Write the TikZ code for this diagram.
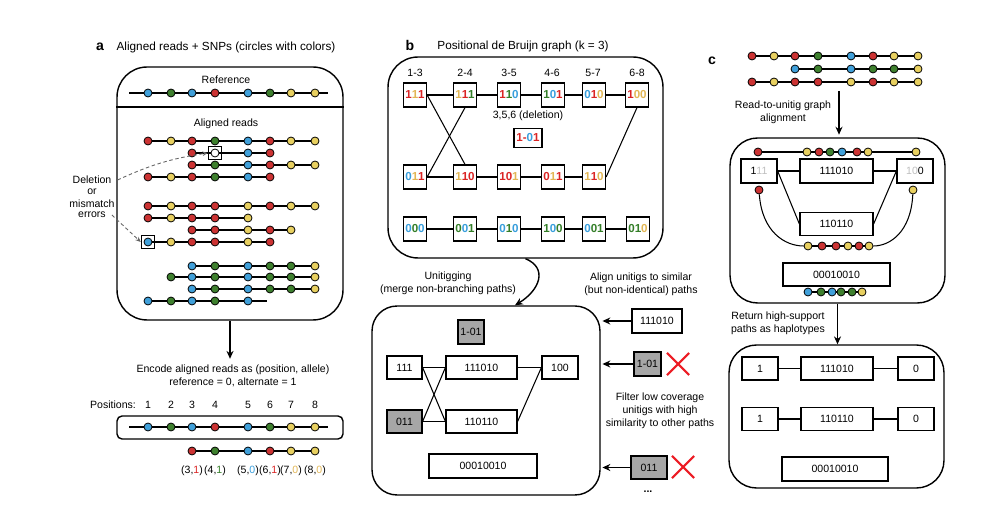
\documentclass[tikz,border=0pt]{standalone}
\usepackage{fontspec}
\setmainfont{Liberation Sans}
\usepackage{tikz}
\usetikzlibrary{arrows.meta}
\usetikzlibrary{shapes.misc}
\usetikzlibrary{positioning}

\definecolor{snpred}{RGB}{204,51,51}
\definecolor{snpyel}{RGB}{232,208,96}
\definecolor{snpgrn}{RGB}{62,128,46}
\definecolor{snpblu}{RGB}{64,160,218}
\definecolor{txtred}{RGB}{218,36,36}
\definecolor{txtyel}{RGB}{226,182,84}
\definecolor{txtgrn}{RGB}{52,126,40}
\definecolor{txtblu}{RGB}{56,158,220}
\definecolor{fadegray}{RGB}{190,190,190}
\definecolor{boxgray}{RGB}{166,166,166}
\definecolor{dashgray}{RGB}{100,100,100}
\definecolor{xred}{RGB}{236,28,36}

\newcommand{\Rd}[1]{\textcolor{txtred}{#1}}
\newcommand{\Yl}[1]{\textcolor{txtyel}{#1}}
\newcommand{\Gn}[1]{\textcolor{txtgrn}{#1}}
\newcommand{\Bl}[1]{\textcolor{txtblu}{#1}}
\newcommand{\Fd}[1]{\textcolor{fadegray}{#1}}

% one read: name prefix, y, list of x/colour
\newcommand{\snpread}[3]{%
  \foreach \p/\c [count=\i, remember=\i as \j (initially 0)] in {#3} {%
    \node[snp, fill=\c] (#1\i) at (\p,#2) {};
    \ifnum\i>1 \draw[readline] (#1\j) -- (#1\i); \fi
  }%
}

\tikzstyle{snp} = [circle, draw, line width=0.45pt, inner sep=0pt, minimum size=0.16cm]
\tikzstyle{readline} = [line width=0.6pt]
\tikzstyle{edge} = [line width=0.6pt]
\tikzstyle{panel} = [draw, line width=0.8pt, rounded corners=0.6cm, inner sep=0pt]
\tikzstyle{kmer} = [draw, line width=0.7pt, inner sep=0pt, minimum width=0.46cm, minimum height=0.48cm, font=\fontsize{6.6}{7}\selectfont\bfseries]
\tikzstyle{unitig} = [draw, line width=0.7pt, inner sep=0pt, minimum height=0.46cm]
\tikzstyle{lowcov} = [unitig, fill=boxgray]
\tikzstyle{errbox} = [draw, line width=0.6pt, inner sep=0pt, minimum size=0.27cm]
\tikzstyle{arrow} = [line width=0.8pt, -{Stealth[length=4.5pt, width=4pt]}]
\tikzstyle{dasharrow} = [dashgray, line width=0.5pt, dash pattern=on 2pt off 1.5pt, -{Stealth[length=3pt, width=2.6pt]}]
\tikzstyle{xmark} = [cross out, draw=xred, line width=1.2pt, inner sep=0pt, minimum size=0.4cm]
\tikzstyle{heading} = [font=\fontsize{6.7}{8}\selectfont]
\tikzstyle{letter} = [font=\fontsize{8}{9}\selectfont\bfseries]

\begin{document}
\begin{tikzpicture}[x=0.02cm, y=-0.02cm, font=\fontsize{6}{7.4}\selectfont]
\useasboundingbox (0,0) rectangle (1000,516);

% Panel a
\node[letter] (la) at (100,47) {a};
\node[heading] (ta) at (226,47) {Aligned reads + SNPs (circles with colors)};
\node[panel, minimum width=4.52cm, minimum height=5.06cm] (abox) at (230,193.5) {};
\draw[line width=0.8pt] (abox.west |- 0,107) -- (abox.east |- 0,107);

% Reference
\node (reflabel) at (226,80) {Reference};
\coordinate (refa-L) at (129,93);
\coordinate (refa-R) at (328,93);
\snpread{refa-}{93}{148/snpblu,171/snpgrn,192/snpblu,215/snpred,248/snpblu,270/snpgrn,291/snpyel,315/snpyel}
\draw[readline] (refa-L) -- (refa-1) (refa-8) -- (refa-R);

% Aligned reads
\node (readlabel) at (226,124) {Aligned reads};
\snpread{ra1-}{141}{148/snpred,171/snpyel,192/snpred,215/snpgrn,248/snpblu,270/snpred,291/snpyel,315/snpyel}
\snpread{ra2-}{153}{192/snpred,215/white,248/snpblu,270/snpred}
\snpread{ra3-}{165}{192/snpred,215/snpgrn,248/snpblu,270/snpred,291/snpyel,315/snpyel}
\snpread{ra4-}{177}{148/snpred,171/snpyel,192/snpred,215/snpgrn,248/snpblu,270/snpred}
\snpread{ra5-}{206}{148/snpred,171/snpyel,192/snpred,215/snpred,248/snpyel,270/snpred,291/snpyel,315/snpyel}
\snpread{ra6-}{218}{148/snpred,171/snpyel,192/snpred,215/snpred,248/snpyel}
\snpread{ra7-}{230}{192/snpred,215/snpred,248/snpyel,270/snpred,291/snpyel}
\snpread{ra8-}{242}{148/snpblu,171/snpyel,192/snpred,215/snpred,248/snpyel,270/snpred}
\snpread{ra9-}{266}{192/snpblu,215/snpgrn,248/snpblu,270/snpgrn,291/snpgrn,315/snpyel}
\snpread{ra10-}{277}{171/snpgrn,192/snpblu,215/snpgrn,248/snpblu,270/snpgrn,291/snpgrn,315/snpyel}
\snpread{ra11-}{289}{192/snpblu,215/snpgrn,248/snpblu,270/snpgrn,291/snpgrn,315/snpyel}
\snpread{ra12-}{301}{148/snpblu,171/snpgrn,192/snpblu,215/snpgrn,248/snpblu}
\coordinate (ra12-end) at (267,301);
\draw[readline] (ra12-5) -- (ra12-end);

% Errors
\node[errbox] (delbox) at (ra2-2) {};
\node[errbox] (misbox) at (ra8-1) {};
\node (deltxt) at (92,180) {Deletion};
\node (ortxt) at (92,192) {or};
\node (mistxt) at (92,204) {mismatch};
\node (errtxt) at (92,215) {errors};
\draw[dasharrow] (deltxt.east) to[bend left=8] (delbox.west);
\draw[dasharrow] (errtxt.east) -- (misbox.west);

% Encoding
\node[align=center] (enc) at (233,376) {Encode aligned reads as (position, allele)\\reference = 0, alternate = 1};
\draw[arrow] (abox.south) -- (abox.south |- enc.north);
\node (poslabel) at (113,405) {Positions:};
\foreach \p [count=\i] in {148,171,192,215,248,270,291,315}
  \node (pos\i) at (\p,405) {\i};
\node[panel, rounded corners=0.1cm, minimum width=4.52cm, minimum height=0.46cm] (posbox) at (230,427.5) {};
\coordinate (refb-L) at (129,427);
\coordinate (refb-R) at (328,427);
\snpread{refb-}{427}{148/snpblu,171/snpgrn,192/snpblu,215/snpred,248/snpblu,270/snpgrn,291/snpyel,315/snpyel}
\draw[readline] (refb-L) -- (refb-1) (refb-8) -- (refb-R);
\snpread{enc-}{451}{192/snpred,215/snpgrn,248/snpblu,270/snpred,291/snpyel,315/snpyel}
\node[below=0.08cm of enc-1] (al1) {(3,\Rd1)};
\node[below=0.08cm of enc-2] (al2) {(4,\Gn1)};
\node[below=0.08cm of enc-3] (al3) {(5,\Bl0)};
\node[below=0.08cm of enc-4] (al4) {(6,\Rd1)};
\node[below=0.08cm of enc-5] (al5) {(7,\Yl0)};
\node[below=0.08cm of enc-6] (al6) {(8,\Yl0)};

% Panel b
\node[letter] (lb) at (410,45) {b};
\node[heading] (tb) at (523,46) {Positional de Bruijn graph (k = 3)};
\node[panel, minimum width=5.5cm, minimum height=4.02cm] (bbox) at (525.5,157.5) {};
\foreach \p/\t [count=\i] in {415/1-3,465/2-4,509/3-5,552/4-6,593/5-7,637/6-8}
  \node (col\i) at (\p,73) {\t};

% k-mers
\node[kmer] (k11) at (415,95) {\Rd1\Yl1\Rd1};
\node[kmer] (k12) at (465,95) {\Yl1\Rd1\Gn1};
\node[kmer] (k13) at (509,95) {\Rd1\Gn1\Bl0};
\node[kmer] (k14) at (553,95) {\Gn1\Bl0\Rd1};
\node[kmer] (k15) at (594,95) {\Bl0\Rd1\Yl0};
\node[kmer] (k16) at (637,95) {\Rd1\Yl0\Yl0};
\node[kmer] (k21) at (415,177) {\Bl0\Yl1\Rd1};
\node[kmer] (k22) at (465,177) {\Yl1\Rd1\Rd0};
\node[kmer] (k23) at (509,177) {\Rd1\Rd0\Yl1};
\node[kmer] (k24) at (553,177) {\Rd0\Yl1\Rd1};
\node[kmer] (k25) at (594,177) {\Yl1\Rd1\Yl0};
\node[kmer] (k31) at (415,229) {\Bl0\Gn0\Bl0};
\node[kmer] (k32) at (465,229) {\Gn0\Bl0\Gn1};
\node[kmer] (k33) at (509,229) {\Bl0\Gn1\Bl0};
\node[kmer] (k34) at (553,229) {\Gn1\Bl0\Gn0};
\node[kmer] (k35) at (594,229) {\Bl0\Gn0\Gn1};
\node[kmer] (k36) at (638,229) {\Gn0\Gn1\Yl0};
\node[kmer, minimum width=0.56cm, minimum height=0.38cm] (kdel) at (528,138) {\Rd1\Rd-\Bl0\Rd1};
\node[above=0.02cm of kdel] (deltitle) {3,5,6 (deletion)};

% Edges
\draw[edge] (k11) -- (k12) -- (k13) -- (k14) -- (k15) -- (k16);
\draw[edge] (k21) -- (k22) -- (k23) -- (k24) -- (k25);
\draw[edge] (k31) -- (k32) -- (k33) -- (k34) -- (k35) -- (k36);
\draw[edge] (k11.east) -- (k22.north);
\draw[edge] (k21.east) -- (k12.south);
\draw[edge] (k16.south) -- (k25.east);

% Unitigs
\node[panel, rounded corners=0.5cm, minimum width=4.56cm, minimum height=3.78cm] (ubox) at (486,400.5) {};
\draw[arrow] (bbox.south) .. controls (548,268) and (540,290) .. ([xshift=0.58cm]ubox.north);
\node[align=center] (unitxt) at (448,283.5) {Unitigging\\(merge non-branching paths)};
\node[lowcov, minimum width=0.52cm, minimum height=0.48cm] (u0) at (471,332) {1-01};
\node[unitig, minimum width=0.7cm] (u1) at (404.5,367.5) {111};
\node[unitig, minimum width=1.42cm] (u2) at (481.5,367.5) {111010};
\node[unitig, minimum width=0.72cm] (u3) at (560,367.5) {100};
\node[lowcov, minimum width=0.7cm] (u4) at (404.5,421.5) {011};
\node[unitig, minimum width=1.42cm] (u5) at (481.5,421.5) {110110};
\node[unitig, minimum width=2.16cm, minimum height=0.48cm] (u6) at (483,466) {00010010};
\draw[edge] (u1.east) -- (u2.west);
\draw[edge] (u1.east) -- (u5.west);
\draw[edge] (u4.east) -- (u2.west);
\draw[edge] (u4.east) -- (u5.west);
\draw[edge] (u2.east) -- (u3.west);
\draw[edge] (u5.east) -- (u3.west);

% Alignment of unitigs
\node[align=center] (aligntxt) at (641,284) {Align unitigs to similar\\(but non-identical) paths};
\node[unitig, minimum width=1.0cm, minimum height=0.48cm] (s1) at (657,321) {111010};
\node[lowcov, minimum width=0.54cm, minimum height=0.48cm] (s2) at (647.5,364) {1-01};
\node[lowcov, minimum width=0.72cm] (s3) at (649,467.5) {011};
\node[xmark] (x2) at (678,364) {};
\node[xmark] (x3) at (683,467) {};
\draw[arrow, shorten >=1pt] (s1.west) -- (s1.west -| ubox.east);
\draw[arrow, shorten >=1pt] (s2.west) -- (s2.west -| ubox.east);
\draw[arrow, shorten >=1pt] (s3.west) -- (s3.west -| ubox.east);
\node[align=center] (filtertxt) at (660,411) {Filter low coverage\\unitigs with high\\similarity to other paths};
\node[font=\fontsize{6}{7}\selectfont\bfseries] (dots) at (648,492) {...};

% Panel c
\node[letter] (lc) at (712,61) {c};
\snpread{rc1-}{56}{752/snpred,774/snpyel,795/snpred,818/snpgrn,851/snpblu,873/snpred,894/snpyel,918/snpyel}
\snpread{rc2-}{69}{795/snpblu,818/snpgrn,851/snpblu,873/snpgrn,894/snpgrn,918/snpyel}
\snpread{rc3-}{82}{752/snpred,774/snpyel,795/snpred,818/snpred,851/snpyel,873/snpred,894/snpyel,918/snpyel}
\node[panel, rounded corners=0.55cm, minimum width=4.3cm, minimum height=3.3cm] (cbox) at (837.5,220.5) {};
\coordinate (cstart) at (839,91);
\draw[arrow, shorten >=1.5pt] (cstart) -- (cstart |- cbox.north);
\node[align=center] (graphtxt) at (783,112.5) {Read-to-unitig graph\\alignment};

% Graph with reads
\snpread{rct-}{152}{758/snpred,807/snpyel,819/snpred,830/snpgrn,842/snpblu,857/snpred,868/snpyel,916/snpyel}
\node[unitig, minimum width=0.72cm, minimum height=0.48cm] (c1) at (759,171) {1\Fd{11}};
\node[unitig, minimum width=1.46cm, minimum height=0.48cm] (c2) at (836.5,171) {111010};
\node[unitig, minimum width=0.72cm, minimum height=0.48cm] (c3) at (915,171) {\Fd{10}0};
\node[unitig, minimum width=1.46cm] (c4) at (836.5,224) {110110};
\draw[edge] (c1) -- (c2) -- (c3);
\draw[edge] (c1.east) -- (c4.west);
\draw[edge] (c3.west) -- (c4.east);
\node[snp, fill=snpred] (cr) at (759,190) {};
\node[snp, fill=snpyel] (cy) at (913,190) {};
\snpread{rcb-}{246}{808/snpyel,822/snpred,836/snpred,848/snpyel,859/snpred,869/snpyel}
\draw[readline] (cr) .. controls (762,232) and (785,246) .. (rcb-1);
\draw[readline] (cy) .. controls (911,232) and (890,246) .. (rcb-6);
\node[unitig, minimum width=2.14cm] (c5) at (836.5,274.5) {00010010};
\snpread{rcl-}{292}{808/snpblu,821/snpgrn,832/snpblu,841/snpgrn,852/snpgrn,862/snpyel}

% Haplotypes
\node[panel, rounded corners=0.55cm, minimum width=4.3cm, minimum height=2.86cm] (hbox) at (836.5,416.5) {};
\draw[arrow] (cbox.south) -- (cbox.south |- hbox.north);
\node[align=center] (hapltxt) at (778,323.5) {Return high-support\\paths as haplotypes};
\node[unitig, minimum width=0.72cm] (h1) at (760,368.5) {1};
\node[unitig, minimum width=1.44cm] (h2) at (837,368.5) {111010};
\node[unitig, minimum width=0.72cm] (h3) at (916,368.5) {0};
\node[unitig, minimum width=0.72cm] (h4) at (760,419) {1};
\node[unitig, minimum width=1.44cm] (h5) at (837,419) {110110};
\node[unitig, minimum width=0.72cm] (h6) at (916,419) {0};
\node[unitig, minimum width=2.12cm, minimum height=0.48cm] (h7) at (835,469) {00010010};
\draw[edge] (h1) -- (h2) -- (h3);
\draw[edge] (h4) -- (h5) -- (h6);

\end{tikzpicture}
\end{document}
